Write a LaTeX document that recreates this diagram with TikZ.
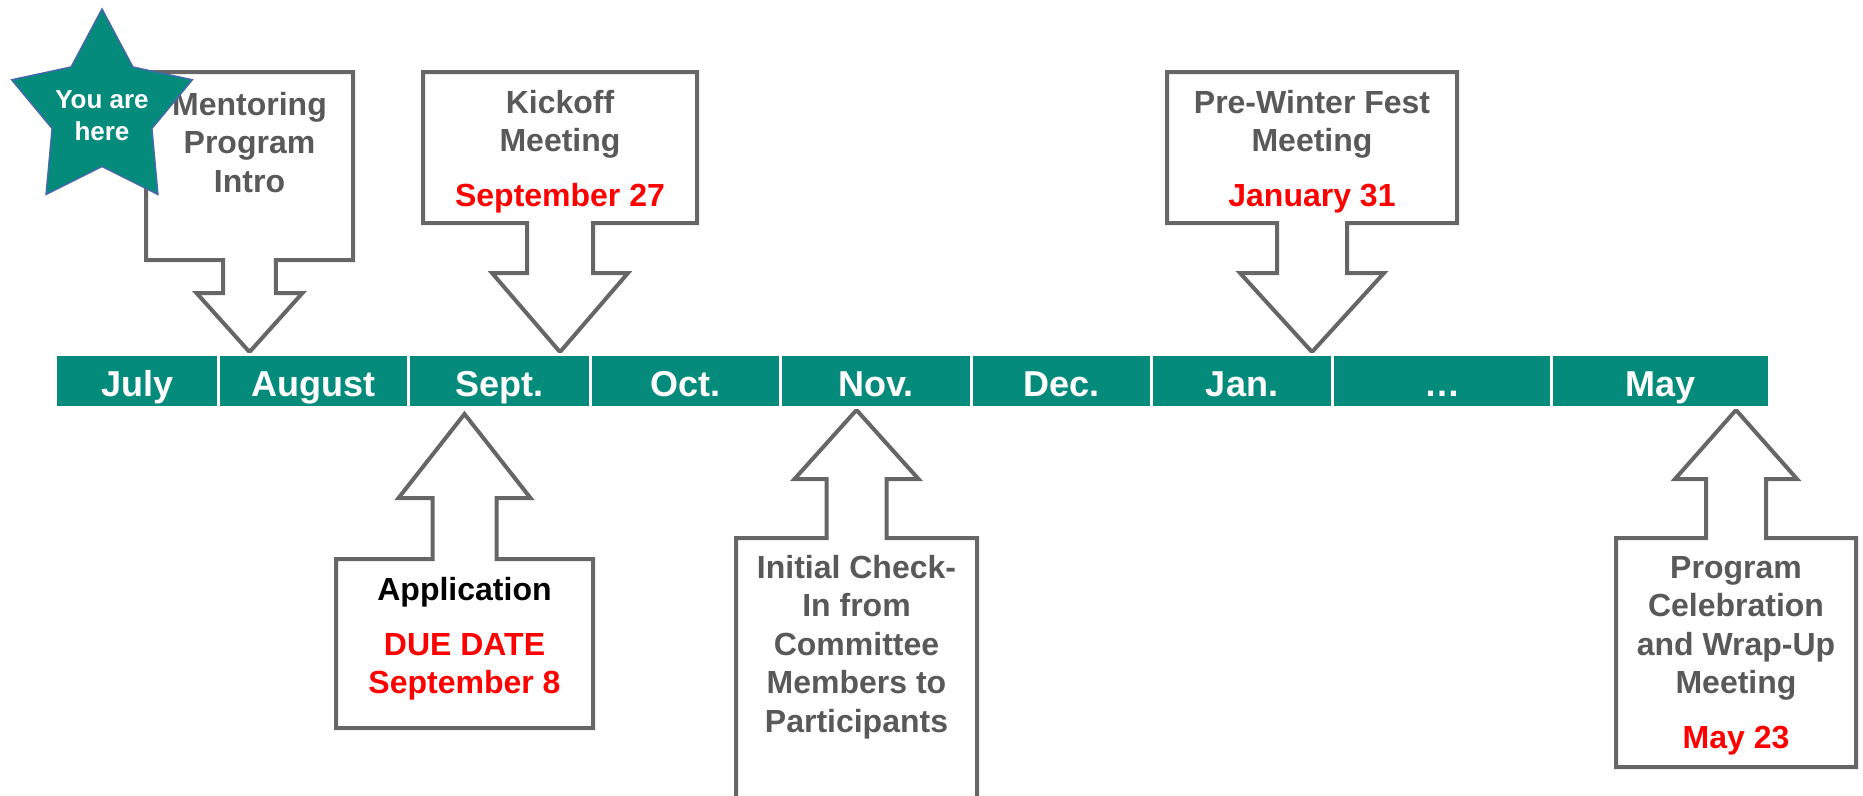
\documentclass[tikz,border=0pt]{standalone}
\usepackage{fontspec}
\setmainfont{Liberation Sans}
\definecolor{barteal}{RGB}{5,139,123}
\definecolor{calloutgray}{RGB}{102,102,102}
\definecolor{textgray}{RGB}{89,89,89}
\definecolor{datered}{RGB}{255,0,0}
\definecolor{starline}{RGB}{68,104,168}
\begin{document}
\begin{tikzpicture}[x=1pt,y=-1pt,
  every node/.style={inner sep=0pt, outer sep=0pt},
  month/.style={fill=barteal, draw=white, line width=3pt, minimum height=53pt,
    text height=30pt, text depth=0pt, text=white,
    font=\fontsize{36}{43}\selectfont\bfseries},
  callout/.style={draw=calloutgray, fill=white, line width=4pt, line join=miter},
  calltext/.style={anchor=north, align=center, text=textgray,
    font=\fontsize{32}{38.5}\selectfont\bfseries},
  redline/.style={text=datered}]
\useasboundingbox (0,0) rectangle (1863,795);
\clip (0,0) rectangle (1863,795);

% callouts above the timeline
\draw[callout] (146,72) -- (353,72) -- (353,260) -- (275.8,260) -- (275.8,293) -- (302.5,293)
  -- (249.5,352) -- (196.5,293) -- (223.2,293) -- (223.2,260) -- (146,260) -- cycle;
\draw[callout] (423,72) -- (697,72) -- (697,223) -- (593,223) -- (593,273) -- (628,273)
  -- (560,352) -- (492,273) -- (527,273) -- (527,223) -- (423,223) -- cycle;
\draw[callout] (1167,72) -- (1457,72) -- (1457,223) -- (1347,223) -- (1347,273) -- (1384,273)
  -- (1312,352) -- (1240,273) -- (1277,273) -- (1277,223) -- (1167,223) -- cycle;

% callouts below the timeline
\draw[callout] (336,728) -- (593,728) -- (593,559) -- (496.5,559) -- (496.5,498) -- (530.5,498)
  -- (464.5,414) -- (398.5,498) -- (432.5,498) -- (432.5,559) -- (336,559) -- cycle;
\draw[callout] (736,830) -- (977,830) -- (977,538) -- (886.5,538) -- (886.5,479) -- (918.5,479)
  -- (856.5,410) -- (794.5,479) -- (826.5,479) -- (826.5,538) -- (736,538) -- cycle;
\draw[callout] (1616,767) -- (1856,767) -- (1856,538) -- (1766,538) -- (1766,479) -- (1797,479)
  -- (1736,410) -- (1675,479) -- (1706,479) -- (1706,538) -- (1616,538) -- cycle;

% callout texts
\node[calltext] (mentor) at (249.5,85) {\rule{0pt}{30pt}Mentoring\\Program\\Intro};
\node[calltext] (kickoff) at (560,83)
  {\rule{0pt}{30pt}Kickoff\\Meeting\\[16pt]\textcolor{datered}{September 27}};
\node[calltext] (winter) at (1312,83)
  {\rule{0pt}{30pt}Pre-Winter Fest\\Meeting\\[16pt]\textcolor{datered}{January 31}};
\node[calltext] (apply) at (464.5,570.7)
  {\rule{0pt}{30pt}\textcolor{black}{Application}\\[16pt]\textcolor{datered}{DUE DATE}\\\textcolor{datered}{September 8}};
\node[calltext] (checkin) at (856.5,548.3)
  {\rule{0pt}{30pt}Initial Check-\\In from\\Committee\\Members to\\Participants};
\node[calltext] (wrapup) at (1736,548.3)
  {\rule{0pt}{30pt}Program\\Celebration\\and Wrap-Up\\Meeting\\[16pt]\textcolor{datered}{May 23}};

% timeline bar
\node[month, minimum width=162.8pt] (jul) at (137.2,381) {July};
\node[month, minimum width=190.1pt] (aug) at (313.65,381) {August};
\node[month, minimum width=181.8pt] (sep) at (499.6,381) {Sept.};
\node[month, minimum width=190.1pt] (oct) at (685.55,381) {Oct.};
\node[month, minimum width=191.3pt] (nov) at (876.25,381) {Nov.};
\node[month, minimum width=179.8pt] (dec) at (1061.8,381) {Dec.};
\node[month, minimum width=180.6pt] (jan) at (1242,381) {Jan.};
\node[month, minimum width=219.4pt] (gap) at (1442,381) {…};
\node[month, minimum width=217.3pt] (may) at (1660.35,381) {May};

% "you are here" star
\draw[fill=barteal, draw=starline, line width=1.5pt, line join=miter]
  (102,9) -- (132.9,67) -- (192.3,79.8) -- (151.9,128.5) -- (157.9,194.4)
  -- (102,166.5) -- (46.1,194.4) -- (52.1,128.5) -- (11.7,79.8) -- (71.1,67) -- cycle;
\node[anchor=north, align=center, text=white, font=\fontsize{26}{31.7}\selectfont\bfseries]
  (here) at (102,83.3) {\rule{0pt}{25pt}You are\\here};
\end{tikzpicture}
\end{document}
